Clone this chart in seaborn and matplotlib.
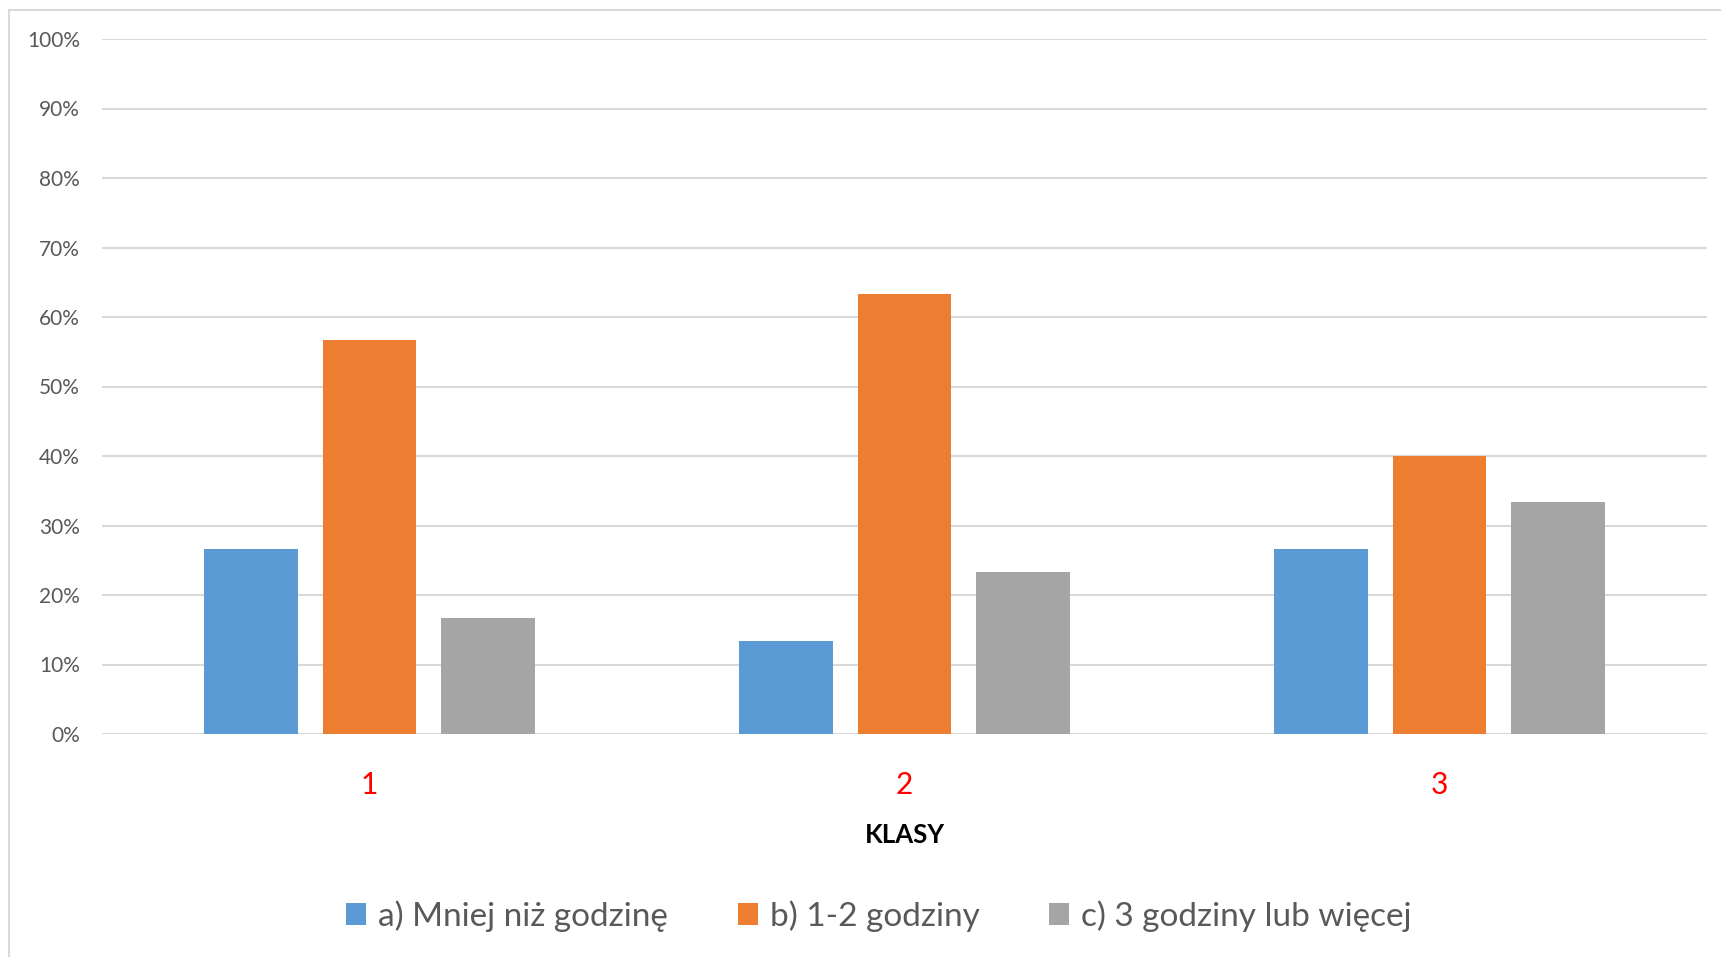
import pandas as pd
import matplotlib.pyplot as plt
import seaborn as sns
from matplotlib.patches import Rectangle
from matplotlib.ticker import PercentFormatter

# Data (share of answers per class)
klasy = ['1', '2', '3']
odpowiedzi = ['a) Mniej niż godzinę', 'b) 1-2 godziny', 'c) 3 godziny lub więcej']
mniej_niz_godzine = [0.2667, 0.1333, 0.2667]
jedna_dwie_godziny = [0.5667, 0.6333, 0.40]
trzy_lub_wiecej = [0.1667, 0.2333, 0.3333]
kolory = ['#5B9BD5', '#ED7D31', '#A5A5A5']

df = pd.DataFrame({
    'klasa': klasy * 3,
    'odpowiedz': [odpowiedzi[0]] * 3 + [odpowiedzi[1]] * 3 + [odpowiedzi[2]] * 3,
    'udzial': mniej_niz_godzine + jedna_dwie_godziny + trzy_lub_wiecej,
})

sns.set_theme(style='white')
plt.rcParams['font.family'] = ['Lato', 'DejaVu Sans']

W, H = 1721, 957
fig = plt.figure(figsize=(W / 100, H / 100), dpi=100)
ax = fig.add_axes([102 / W, 1 - 734 / H, (1707 - 102) / W, (734 - 39) / H])

sns.barplot(data=df, x='klasa', y='udzial', hue='odpowiedz', hue_order=odpowiedzi,
            palette=kolory, width=0.667, gap=0.21, linewidth=0, saturation=1,
            legend=False, ax=ax, zorder=3)

ax.set_xlim(-0.5, 2.5)
ax.set_ylim(0, 1)
ax.set_yticks([i / 10 for i in range(11)])
ax.yaxis.set_major_formatter(PercentFormatter(1.0, decimals=0))
ax.grid(axis='y', color='#d9d9d9', linewidth=1.5, zorder=0)
ax.grid(axis='x', visible=False)
for s in ax.spines.values():
    s.set_visible(False)

ax.tick_params(axis='y', length=0, pad=16, labelsize=15, labelcolor='#595959')
ax.tick_params(axis='x', length=0, pad=27, labelsize=21.5, labelcolor='red')
ax.set_ylabel('')
ax.set_xlabel('KLASY', fontsize=18.5, fontweight='bold', color='black', labelpad=17)

handles = [c.patches[0] for c in ax.containers]
fig.legend(handles, odpowiedzi, loc='center', bbox_to_anchor=(879 / W, 1 - 916 / H),
           ncol=3, frameon=False, fontsize=24, labelcolor='#595959',
           handlelength=0.6, handleheight=0.6, handletextpad=0.35, columnspacing=2.1)

# light chart-area border (left and top visible)
fig.patches.append(Rectangle((9 / W, -0.1), 1.2, 1.1 - 10 / H, transform=fig.transFigure,
                             fill=False, edgecolor='#d9d9d9', linewidth=1.5))

plt.savefig('out.png', dpi=100)
plt.close()
